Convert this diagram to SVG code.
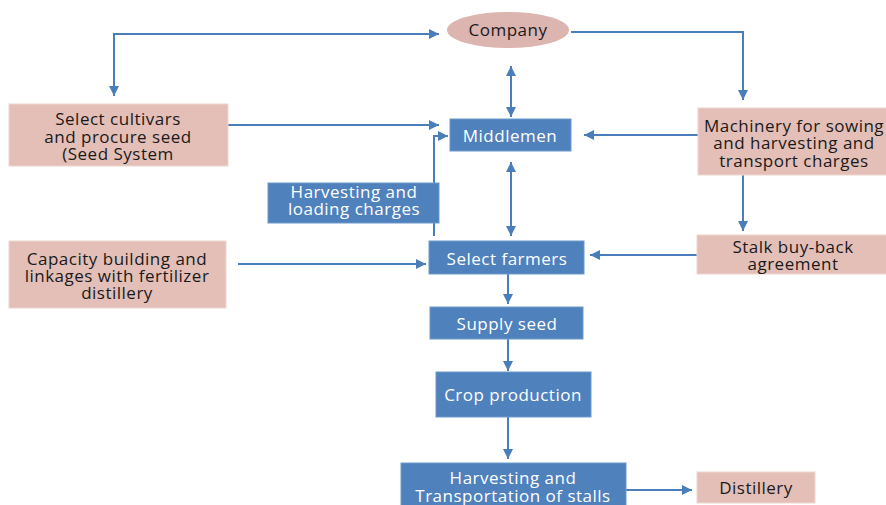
<svg xmlns="http://www.w3.org/2000/svg" width="886" height="505" viewBox="0 0 886 505">
<defs>
<style>
.pk{fill:#e3bfb7;stroke:#eed6d0;stroke-width:1}
.bl{fill:#4f81bd;stroke:#6f99cc;stroke-width:1}
.tk{font-family:"Open Sans","Liberation Sans",sans-serif;font-size:17px;letter-spacing:0.5px;fill:#1a1a1a;text-anchor:middle}
.tw{font-family:"Open Sans","Liberation Sans",sans-serif;font-size:17px;letter-spacing:0.5px;fill:#ffffff;text-anchor:middle}
.ln{fill:none;stroke:#4a7ebb;stroke-width:2}
</style>
<marker id="ah" viewBox="0 0 10 10" refX="10" refY="5" markerWidth="5" markerHeight="5" orient="auto-start-reverse" markerUnits="strokeWidth">
<path d="M0,0 L10,5 L0,10 z" fill="#4a7ebb"/>
</marker>
</defs>
<rect width="886" height="505" fill="#ffffff"/>
<g id="connectors">
<path class="ln" d="M114,96 V34 H439" marker-start="url(#ah)" marker-end="url(#ah)"/>
<path class="ln" d="M228,125 H439" marker-end="url(#ah)"/>
<path class="ln" d="M434,236 V136 H448" marker-end="url(#ah)"/>
<path class="ln" d="M511,66 V117" marker-start="url(#ah)" marker-end="url(#ah)"/>
<path class="ln" d="M571,32 H743 V100" marker-end="url(#ah)"/>
<path class="ln" d="M698,135 H584" marker-end="url(#ah)"/>
<path class="ln" d="M743,175 V231" marker-end="url(#ah)"/>
<path class="ln" d="M697,255 H590" marker-end="url(#ah)"/>
<path class="ln" d="M511,162 V236" marker-start="url(#ah)" marker-end="url(#ah)"/>
<path class="ln" d="M238,264 H426" marker-end="url(#ah)"/>
<path class="ln" d="M508,274 V304" marker-end="url(#ah)"/>
<path class="ln" d="M508,339 V371" marker-end="url(#ah)"/>
<path class="ln" d="M508,417 V459" marker-end="url(#ah)"/>
<path class="ln" d="M626,490 H692" marker-end="url(#ah)"/>
</g>
<g id="company">
<ellipse cx="508" cy="30" rx="61" ry="18" fill="#dcb4b0"/>
<text class="tk" x="508" y="36">Company</text>
</g>
<g id="select-cultivars">
<rect class="pk" x="9" y="104" width="219" height="62"/>
<text class="tk" x="118" y="125">Select cultivars</text>
<text class="tk" x="118" y="143">and procure seed</text>
<text class="tk" x="118" y="160">(Seed System</text>
</g>
<g id="middlemen">
<rect class="bl" x="450" y="119" width="121" height="32"/>
<text class="tw" x="510" y="142">Middlemen</text>
</g>
<g id="machinery">
<rect class="pk" x="698" y="108" width="200" height="67"/>
<text class="tk" x="794" y="132">Machinery for sowing</text>
<text class="tk" x="794" y="149">and harvesting and</text>
<text class="tk" x="794" y="167">transport charges</text>
</g>
<g id="harvest-loading">
<rect class="bl" x="268" y="183" width="171" height="40"/>
<text class="tw" x="354" y="198">Harvesting and</text>
<text class="tw" x="354" y="215">loading charges</text>
</g>
<g id="capacity">
<rect class="pk" x="9" y="241" width="217" height="67"/>
<text class="tk" x="117" y="265">Capacity building and</text>
<text class="tk" x="117" y="282">linkages with fertilizer</text>
<text class="tk" x="117" y="299">distillery</text>
</g>
<g id="select-farmers">
<rect class="bl" x="429" y="241" width="155" height="33"/>
<text class="tw" x="507" y="265">Select farmers</text>
</g>
<g id="stalk">
<rect class="pk" x="697" y="235" width="195" height="39"/>
<text class="tk" x="793" y="253">Stalk buy-back</text>
<text class="tk" x="793" y="270">agreement</text>
</g>
<g id="supply-seed">
<rect class="bl" x="430" y="307" width="153" height="32"/>
<text class="tw" x="507" y="330">Supply seed</text>
</g>
<g id="crop-production">
<rect class="bl" x="436" y="372" width="155" height="45"/>
<text class="tw" x="513" y="401">Crop production</text>
</g>
<g id="harvest-transport">
<rect class="bl" x="401" y="463" width="225" height="50"/>
<text class="tw" x="513" y="484">Harvesting and</text>
<text class="tw" x="513" y="502">Transportation of stalls</text>
</g>
<g id="distillery">
<rect class="pk" x="697" y="472" width="118" height="31"/>
<text class="tk" x="756" y="494">Distillery</text>
</g>
</svg>
